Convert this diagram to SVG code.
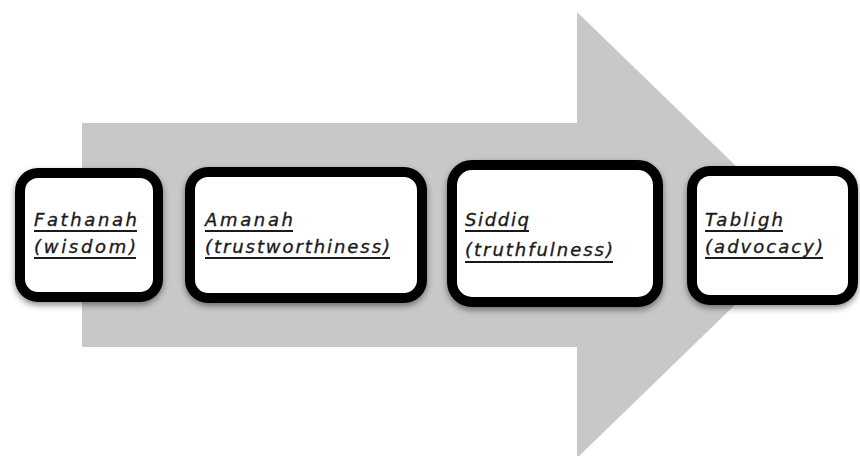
<svg xmlns="http://www.w3.org/2000/svg" width="860" height="456" viewBox="0 0 860 456">
<defs>
<filter id="sh" x="-10%" y="-10%" width="120%" height="130%">
<feDropShadow dx="0" dy="3" stdDeviation="3" flood-color="#000" flood-opacity="0.45"/>
</filter>
<style>
.box{fill:#fff;stroke:#000;stroke-width:10;filter:url(#sh)}
.t{font-family:"DejaVu Sans","Liberation Sans",sans-serif;font-style:italic;font-size:18px;fill:#1a1a1a;stroke:#1a1a1a;stroke-width:0.35}
.u{stroke:#1a1a1a;stroke-width:1.8}
</style>
</defs>
<rect width="860" height="456" fill="#fff"/>
<g id="arrow">
<polygon points="82,123 577,123 577,12 807,235 577,458 577,347 82,347" fill="#c8c8c8"/>
</g>
<g id="connectors"/>
<g id="fathanah">
<rect class="box" x="20" y="173" width="138" height="124" rx="18"/>
<text class="t" x="34" y="226" textLength="103" lengthAdjust="spacing">Fathanah</text>
<text class="t" x="34" y="253" textLength="102" lengthAdjust="spacing">(wisdom)</text>
<line class="u" x1="34" y1="231" x2="137" y2="231"/>
<line class="u" x1="34" y1="258" x2="136" y2="258"/>
</g>
<g id="amanah">
<rect class="box" x="190" y="172" width="232" height="126" rx="18"/>
<text class="t" x="205" y="226" textLength="88" lengthAdjust="spacing">Amanah</text>
<text class="t" x="205" y="253" textLength="185" lengthAdjust="spacing">(trustworthiness)</text>
<line class="u" x1="205" y1="231" x2="293" y2="231"/>
<line class="u" x1="205" y1="258" x2="390" y2="258"/>
</g>
<g id="siddiq">
<rect class="box" x="452" y="165" width="206" height="137" rx="20"/>
<text class="t" x="465" y="226" textLength="64" lengthAdjust="spacing">Siddiq</text>
<text class="t" x="465" y="256" textLength="148" lengthAdjust="spacing">(truthfulness)</text>
<line class="u" x1="465" y1="231" x2="529" y2="231"/>
<line class="u" x1="465" y1="262" x2="613" y2="262"/>
</g>
<g id="tabligh">
<rect class="box" x="692" y="171" width="161" height="129" rx="18"/>
<text class="t" x="705" y="226" textLength="78" lengthAdjust="spacing">Tabligh</text>
<text class="t" x="705" y="253" textLength="118" lengthAdjust="spacing">(advocacy)</text>
<line class="u" x1="705" y1="231" x2="783" y2="231"/>
<line class="u" x1="705" y1="258" x2="823" y2="258"/>
</g>
</svg>
